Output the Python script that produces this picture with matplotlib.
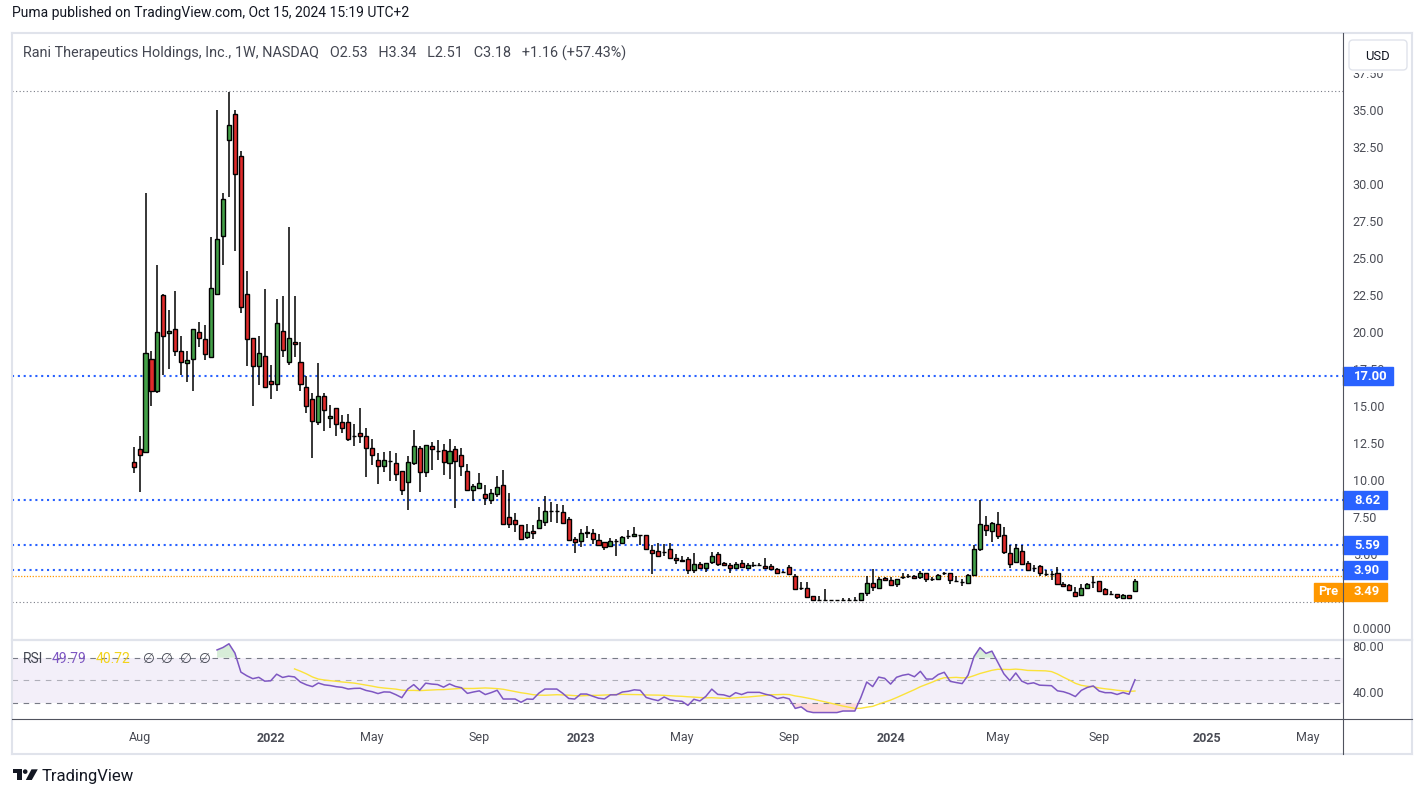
import matplotlib
matplotlib.use('Agg')
import matplotlib.pyplot as plt
import matplotlib.transforms as mtransforms
from matplotlib.patches import Rectangle, FancyBboxPatch, Circle, Polygon
from matplotlib.lines import Line2D
import numpy as np
import pandas as pd

plt.rcParams['font.family'] = ['Roboto', 'DejaVu Sans']

W, H = 1426, 798

# weekly candles, first bar = week of 2021-07-26
first_week = '2021-07-26'
opens = [11.2, 12.1, 11.9, 18.2, 16.0, 22.5, 19.95, 20.2, 18.7, 17.9,
         18.15, 20.0, 19.5, 18.3, 22.55, 26.5, 33.0, 34.7, 31.9, 22.6,
         19.6, 17.7, 18.4, 16.7, 16.5, 20.05, 18.0, 19.3, 17.95, 16.3,
         15.45, 13.9, 15.7, 14.17, 14.85, 13.9, 13.9, 12.95, 13.15, 12.95,
         12.14, 11.33, 10.93, 11.26, 11.13, 10.59, 9.85, 11.13, 12.14, 10.52,
         12.28, 11.94, 12.0, 11.13, 12.08, 11.67, 10.59, 9.3, 9.44, 9.03,
         8.63, 9.03, 9.64, 7.48, 7.28, 6.94, 6.13, 6.53, 6.74, 7.14,
         7.9, 7.9, 7.82, 7.34, 6.0, 5.86, 6.47, 6.4, 5.93, 5.79,
         5.52, 5.86, 5.72, 6.2, 6.2, 6.27, 6.27, 5.25, 5.18, 5.11,
         5.32, 4.71, 4.57, 4.64, 3.9, 4.3, 4.03, 4.44, 4.98, 4.37,
         4.24, 4.03, 4.37, 4.03, 4.24, 4.24, 4.17, 4.17, 3.97, 3.76,
         4.1, 3.49, 2.68, 2.68, 2.14, 1.87, 1.87, 1.87, 1.87, 1.92,
         1.92, 1.92, 1.87, 2.34, 3.02, 2.68, 3.36, 3.22, 2.95, 3.42,
         3.49, 3.49, 3.42, 3.7, 3.29, 3.29, 3.7, 3.7, 3.15, 3.09,
         3.02, 3.56, 5.32, 6.94, 6.53, 7.0, 6.26, 5.05, 4.44, 5.18,
         4.37, 4.03, 4.17, 3.67, 3.63, 3.7, 2.95, 2.88, 2.41, 2.21,
         2.68, 3.09, 3.15, 2.61, 2.28, 2.28, 2.0, 2.21, 2.53]
highs = [12.2, 13.0, 29.4, 18.7, 24.5, 22.6, 21.5, 22.8, 19.7, 18.7,
         20.2, 20.7, 20.5, 26.4, 35.0, 29.4, 36.2, 35.0, 32.2, 24.1,
         19.6, 19.7, 22.9, 17.8, 22.2, 22.4, 27.1, 22.4, 19.3, 17.0,
         15.9, 17.9, 15.9, 15.1, 14.85, 14.4, 14.44, 13.8, 14.86, 13.5,
         12.8, 11.8, 11.87, 11.94, 11.8, 10.59, 11.6, 13.36, 12.28, 12.35,
         12.6, 12.7, 12.4, 12.8, 12.28, 12.14, 11.06, 9.7, 10.45, 9.64,
         9.37, 10.3, 10.7, 9.1, 7.75, 6.94, 7.0, 6.94, 8.2, 8.92,
         8.5, 8.38, 8.31, 7.48, 6.13, 6.67, 6.87, 6.67, 6.33, 5.79,
         6.06, 6.0, 6.2, 6.6, 6.8, 6.27, 6.27, 5.59, 5.72, 5.66,
         5.72, 4.98, 4.9, 4.78, 5.05, 4.44, 4.4, 5.11, 5.11, 4.44,
         4.37, 4.44, 4.57, 4.37, 4.44, 4.37, 4.71, 4.3, 4.03, 3.83,
         4.24, 3.63, 3.1, 3.1, 2.14, 2.14, 2.61, 1.92, 1.92, 2.0,
         2.0, 2.07, 2.34, 3.49, 3.97, 3.42, 3.42, 3.42, 3.29, 3.7,
         3.63, 3.56, 3.83, 3.7, 3.42, 3.63, 3.76, 3.7, 3.49, 3.29,
         3.63, 5.59, 8.63, 7.55, 7.14, 7.82, 6.8, 5.59, 5.66, 5.59,
         4.51, 4.24, 4.24, 3.92, 3.85, 4.1, 3.09, 2.95, 2.75, 2.95,
         3.02, 3.49, 3.15, 2.68, 2.48, 2.28, 2.28, 2.21, 3.34]
lows = [10.5, 9.2, 11.8, 15.0, 15.9, 17.1, 17.5, 18.4, 17.1, 16.6,
        16.0, 19.0, 18.1, 18.3, 22.5, 24.5, 29.1, 25.5, 21.3, 17.7,
        15.0, 16.4, 16.3, 15.5, 16.0, 18.3, 17.8, 18.3, 16.0, 14.5,
        11.5, 13.7, 13.3, 13.5, 13.0, 13.2, 12.66, 12.3, 12.5, 10.2,
        11.0, 9.7, 10.56, 9.95, 9.95, 8.97, 7.95, 11.0, 9.17, 10.18,
        10.7, 11.33, 10.36, 10.1, 8.13, 10.3, 9.3, 8.6, 9.37, 8.3,
        8.4, 8.83, 6.94, 6.74, 6.47, 5.96, 6.0, 6.0, 6.74, 6.91,
        7.14, 7.07, 7.07, 5.86, 5.05, 5.45, 6.06, 5.66, 5.52, 5.25,
        5.45, 4.9, 5.66, 6.0, 6.13, 5.59, 5.25, 3.63, 4.78, 4.9,
        4.71, 4.3, 4.5, 3.63, 3.7, 3.99, 3.8, 4.3, 4.17, 4.17,
        3.7, 3.97, 4.03, 3.97, 4.1, 4.17, 4.03, 3.92, 3.63, 3.7,
        3.56, 2.55, 2.55, 2.0, 1.82, 1.8, 1.85, 1.82, 1.8, 1.8,
        1.87, 1.87, 1.82, 2.14, 2.48, 2.68, 3.15, 2.81, 2.75, 3.29,
        3.36, 3.29, 3.29, 3.09, 3.15, 3.22, 3.56, 2.95, 3.09, 2.81,
        3.02, 3.49, 5.22, 6.2, 5.79, 6.0, 4.98, 4.03, 4.37, 4.24,
        3.83, 3.76, 3.49, 3.49, 3.22, 2.88, 2.75, 2.48, 2.14, 2.21,
        2.68, 2.68, 2.48, 2.28, 2.21, 1.94, 2.0, 1.94, 2.51]
closes = [10.9, 11.7, 18.6, 16.0, 20.0, 19.75, 20.1, 18.7, 18.0, 18.1,
          20.2, 19.6, 18.5, 22.95, 26.3, 29.0, 34.0, 30.7, 21.7, 19.5,
          17.7, 18.6, 16.3, 16.5, 20.6, 18.8, 19.6, 19.2, 16.5, 15.0,
          14.0, 15.65, 14.7, 14.35, 13.8, 13.5, 12.75, 12.95, 13.0, 12.14,
          11.67, 10.93, 11.33, 11.26, 10.39, 9.3, 11.2, 12.28, 10.52, 12.35,
          12.08, 11.94, 11.2, 11.94, 11.26, 10.93, 9.3, 9.57, 9.78, 8.76,
          9.1, 9.5, 7.0, 7.0, 7.0, 6.0, 6.47, 6.4, 7.28, 7.9,
          7.9, 7.9, 7.07, 5.93, 5.79, 6.4, 6.4, 6.0, 5.59, 5.45,
          5.86, 5.86, 6.13, 6.2, 6.33, 6.27, 5.32, 5.05, 4.84, 5.11,
          4.71, 4.57, 4.5, 3.9, 4.3, 4.07, 4.37, 4.9, 4.3, 4.24,
          4.03, 4.3, 4.1, 4.24, 4.24, 4.24, 4.08, 3.97, 3.7, 3.76,
          3.63, 2.61, 2.68, 2.07, 1.87, 1.87, 1.87, 1.87, 1.87, 1.92,
          1.92, 1.92, 2.34, 3.02, 2.75, 3.29, 3.22, 2.88, 3.29, 3.42,
          3.49, 3.36, 3.7, 3.29, 3.29, 3.56, 3.7, 3.22, 3.15, 3.09,
          3.56, 5.32, 7.0, 6.6, 7.07, 6.2, 5.11, 4.3, 5.38, 4.3,
          3.9, 4.03, 3.7, 3.67, 3.63, 2.95, 2.82, 2.55, 2.14, 2.68,
          2.95, 3.09, 2.48, 2.28, 2.28, 2.07, 2.21, 2.02, 3.18]

level_lines = [17.00, 8.62, 5.59, 3.90]
premarket = 3.49
ath_line = 36.28
atl_line = 1.74

price_ticks = [0, 5, 7.5, 10, 12.5, 15, 17.5, 20, 22.5, 25, 27.5, 30, 32.5, 35, 37.5]
rsi_ticks = [40, 80]
tick_months = ['2021-08', '2022-01', '2022-05', '2022-09', '2023-01', '2023-05',
               '2023-09', '2024-01', '2024-05', '2024-09', '2025-01', '2025-05']
tick_labels = ['Aug', '2022', 'May', 'Sep', '2023', 'May', 'Sep', '2024', 'May', 'Sep', '2025', 'May']

title_text = 'Rani Therapeutics Holdings, Inc., 1W, NASDAQ   O2.53   H3.34   L2.51   C3.18   +1.16 (+57.43%)'
rsi_value_text = '49.79'
rsi_ma_text = '40.72'

GREEN = '#43A047'
RED = '#E02B2B'
BLUE = '#2962FF'
ORANGE = '#FF9800'
TXT = '#4A4C55'


def rsi_wilder(c, n=14):
    # standard RSI (Wilder smoothing) computed from the closes above
    c = np.asarray(c, float)
    d = np.diff(c)
    up = np.where(d > 0, d, 0.0)
    dn = np.where(d < 0, -d, 0.0)
    out = np.full(len(c), np.nan)
    au, ad = up[:n].mean(), dn[:n].mean()
    out[n] = 100 - 100 / (1 + au / ad)
    for j in range(n, len(d)):
        au = (au * (n - 1) + up[j]) / n
        ad = (ad * (n - 1) + dn[j]) / n
        out[j + 1] = 100 - 100 / (1 + au / ad)
    return out


def frac(x0, y0, x1, y1):
    return [x0 / W, 1 - y1 / H, (x1 - x0) / W, (y1 - y0) / H]


o = np.array(opens)
h = np.array(highs)
l = np.array(lows)
c = np.array(closes)
x = np.arange(len(c))
rsi = rsi_wilder(c)
rsi_ma = pd.Series(rsi).rolling(14).mean().values

dates = pd.date_range(first_week, periods=230, freq='7D')
months = dates.to_period('M')
tick_pos = [int(np.argmax(months == pd.Period(m, 'M'))) for m in tick_months]

fig = plt.figure(figsize=(W / 100, H / 100), dpi=100)
fig.patch.set_facecolor('white')
pix = mtransforms.Affine2D().scale(1 / W, -1 / H).translate(0, 1) + fig.transFigure

ax = fig.add_axes(frac(12, 33, 1343, 639))
ax_r = fig.add_axes(frac(12, 639, 1343, 719), sharex=ax)

# ---- price pane
ax.vlines(x, l, h, color='black', lw=1.1, zorder=2)
col = np.where(c >= o, GREEN, RED)
ax.bar(x, c - o, bottom=o, width=0.68, color=col, edgecolor='black', linewidth=1.0, zorder=3)

for v in level_lines:
    ax.axhline(v, color=BLUE, lw=1.5, ls=(0, (1, 1.8)), zorder=1)
ax.axhline(premarket, color=ORANGE, lw=0.9, ls=(0, (1, 1.3)), zorder=1)
ax.axhline(ath_line, color='#787B86', lw=0.8, ls=(0, (1, 2.2)), zorder=1)
ax.axhline(atl_line, color='#787B86', lw=0.8, ls=(0, (1, 2.2)), zorder=1)

ax.set_xlim(-20.4, 202.9)
ax.set_ylim(-0.74, 40.2)
ax.yaxis.tick_right()
ax.set_yticks(price_ticks)
ax.set_yticklabels(['0.0000' if t == 0 else f'{t:.2f}' for t in price_ticks])
ax.tick_params(axis='y', length=0, pad=7, labelsize=9, labelcolor=TXT)
ax.tick_params(axis='x', length=0, labelbottom=False)
for s in ax.spines.values():
    s.set_visible(False)

# value tags on the price scale
ytr = ax.get_yaxis_transform()
half = 9 / 14.8
tag_w = [50, 44, 44, 44]
for v, wpx in zip(level_lines, tag_w):
    ax.add_patch(Rectangle((1.0, v - half), wpx / 1331, 2 * half, transform=ytr,
                           color=BLUE, clip_on=False, zorder=10))
    ax.text(1 + 11 / 1331, v, f'{v:.2f}', transform=ytr, color='white', fontsize=9.4,
            fontweight='bold', va='center', ha='left', clip_on=False, zorder=11)
pv = premarket - 15.5 / 14.8
ax.add_patch(Rectangle((1.0, pv - half), 44 / 1331, 2 * half, transform=ytr,
                       color=ORANGE, clip_on=False, zorder=10))
ax.add_patch(Rectangle((1.0 - 29 / 1331, pv - half), 28 / 1331, 2 * half, transform=ytr,
                       color=ORANGE, clip_on=False, zorder=10))
ax.text(1 + 11 / 1331, pv, f'{premarket:.2f}', transform=ytr, color='white', fontsize=9.4,
        fontweight='bold', va='center', ha='left', zorder=11)
ax.text(1 - 15 / 1331, pv, 'Pre', transform=ytr, color='white', fontsize=9.4,
        fontweight='bold', va='center', ha='center', zorder=11)

# ---- RSI pane
ax_r.axhspan(30, 70, color='#7E57C2', alpha=0.09, lw=0)
for lvl, a in [(70, 1.0), (50, 0.55), (30, 1.0)]:
    ax_r.axhline(lvl, color='#787B86', lw=0.8, ls=(0, (5, 5)), alpha=a)
ax_r.fill_between(x, rsi, 70, where=rsi > 70, interpolate=True, color='#4CAF50', alpha=0.22, lw=0)
ax_r.fill_between(x, rsi, 30, where=rsi < 30, interpolate=True, color='#F23645', alpha=0.18, lw=0)
ax_r.plot(x, rsi_ma, color='#FBE23A', lw=1.0)
ax_r.plot(x, rsi, color='#7E57C2', lw=1.1)
ax_r.set_ylim(16.2, 86.4)
ax_r.yaxis.tick_right()
ax_r.set_yticks(rsi_ticks)
ax_r.set_yticklabels([f'{t:.2f}' for t in rsi_ticks])
ax_r.tick_params(axis='y', length=0, pad=7, labelsize=9, labelcolor=TXT)
ax_r.set_xticks(tick_pos)
ax_r.set_xticklabels(tick_labels)
ax_r.tick_params(axis='x', length=0, pad=9, labelsize=9, labelcolor=TXT)
for t in ax_r.get_xticklabels():
    if t.get_text().isdigit():
        t.set_fontweight('bold')
for s in ax_r.spines.values():
    s.set_visible(False)

# ---- frame lines
def hline(y, x0, x1, color, lw):
    fig.add_artist(Line2D([x0, x1], [y, y], transform=pix, color=color, lw=lw))


def vline(xp, y0, y1, color, lw):
    fig.add_artist(Line2D([xp, xp], [y0, y1], transform=pix, color=color, lw=lw))


hline(33, 12, 1412, '#E0E3EB', 1.5)
hline(754, 12, 1412, '#E0E3EB', 1.5)
vline(12, 33, 754, '#E0E3EB', 1.5)
vline(1412, 33, 754, '#E0E3EB', 1.5)
hline(639.5, 12, 1412, '#E0E3EB', 1.6)
hline(719, 12, 1412, '#50535E', 0.8)
vline(1343, 33, 754, '#50535E', 0.8)

# USD button (its white backing hides the top half of the 37.50 label)
fig.add_artist(Rectangle((1344.5, 34), 66, 39, transform=pix, facecolor='white', edgecolor='none'))
fig.add_artist(FancyBboxPatch((1349, 40), 58, 30, boxstyle='round,pad=0,rounding_size=4',
                              transform=pix, facecolor='white', edgecolor='#E0E3EB', lw=1.0))
fig.text(1378, 56, 'USD', transform=pix, ha='center', va='center', fontsize=9.4, color='#131722')

# texts
fig.text(12, 13, 'Puma published on TradingView.com, Oct 15, 2024 15:19 UTC+2', transform=pix,
         ha='left', va='center', fontsize=10.0, color='#131722')
fig.text(23, 53, title_text, transform=pix, ha='left', va='center', fontsize=10.4, color='#434651')

fig.text(23, 659, 'RSI', transform=pix, ha='left', va='center', fontsize=10, color='#434651')
fig.text(52, 659, rsi_value_text, transform=pix, ha='left', va='center', fontsize=10, color='#7E57C2')
fig.text(96, 659, rsi_ma_text, transform=pix, ha='left', va='center', fontsize=10, color='#F2D31B')
for xp in [149, 167, 186, 205]:
    fig.text(xp, 659, '\u2205', transform=pix, ha='center', va='center', fontsize=9.8, color='#434651')

# TradingView logo
fig.add_artist(Polygon([(12.7, 769.3), (22, 769.3), (22, 780), (17.3, 780), (17.3, 772.8), (12.7, 772.8)],
                       closed=True, transform=pix, color='#131722', lw=0))
fig.add_artist(Circle((25.2, 771.6), 2.3, transform=pix, color='#131722', lw=0))
fig.add_artist(Polygon([(31.5, 769.3), (37.8, 769.3), (31.8, 780), (25.8, 780)],
                       closed=True, transform=pix, color='#131722', lw=0))
fig.text(42, 776, 'TradingView', transform=pix, ha='left', va='center', fontsize=12, color='#131722')

fig.savefig('out.png', dpi=100, facecolor='white')
